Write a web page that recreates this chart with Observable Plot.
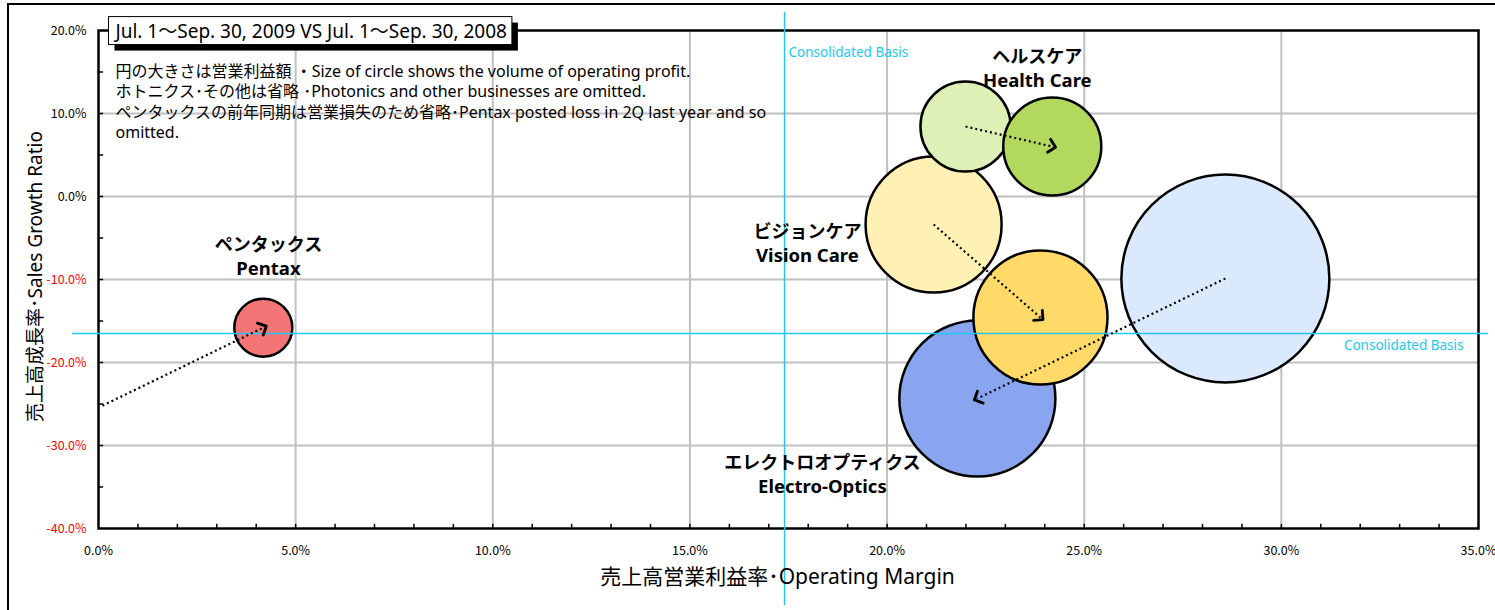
<!DOCTYPE html>
<html><head><meta charset="utf-8">
<script src="https://cdn.jsdelivr.net/npm/d3@7"></script>
<script src="https://cdn.jsdelivr.net/npm/@observablehq/plot@0.6"></script>
<style>
body{margin:0;background:#fff;}
#chart svg{display:block}
</style></head><body><div id="chart"></div>
<script>
// ---- data ----
const segmentJa = ["ペンタックス", "ヘルスケア", "ビジョンケア", "エレクトロオプティクス"];
const segmentEn = ["Pentax", "Health Care", "Vision Care", "Electro-Optics"];
// operating margin (%), sales growth (%), operating profit (bn yen) ; Jul-Sep 2008 (Pentax omitted)
const margin2008 = [null, 21.99, 21.18, 28.58];
const growth2008 = [null, 8.43, -3.37, -9.88];
const profit2008 = [null, 2.03, 4.62, 10.8];
// Jul-Sep 2009
const margin2009 = [4.18, 24.19, 23.89, 22.29];
const growth2009 = [-15.8, 6.02, -14.58, -24.34];
const profit2009 = [0.84, 2.40, 4.49, 6.08];
// Pentax arrow enters from the left edge (prior-year point omitted)
const pentaxArrowFrom = [0.1, -25.2];
// consolidated basis
const consolidatedMargin = 17.4;
const consolidatedGrowth = -16.5;
// ticks
const xTickValues = [0, 5, 10, 15, 20, 25, 30, 35];
const yTickValues = [-40, -30, -20, -10, 0, 10, 20];
const titleText = "Jul. 1～Sep. 30, 2009 VS Jul. 1～Sep. 30, 2008";
const noteLines = [
  "円の大きさは営業利益額 ・Size of circle shows the volume of operating profit.",
  "ホトニクス･その他は省略 ･Photonics and other businesses are omitted.",
  "ペンタックスの前年同期は営業損失のため省略･Pentax posted loss in 2Q last year and so",
  "omitted."
];
const xTitle = "売上高営業利益率･Operating Margin";
const yTitle = "売上高成長率･Sales Growth Ratio";
const basisLabel = "Consolidated Basis";

// ---- styles ----
const palette = {
  2008: {1: "#dff0b6", 2: "#fff1b3", 3: "#dbe9fc"},
  2009: {0: "#f37575", 1: "#b2d95e", 2: "#ffda68", 3: "#8aa5f0"}
};
const labelAt = {0: [4.31, -7.35], 1: [23.81, 15.36], 2: [17.98, -5.78], 3: [18.36, -33.6]};
const cyan = "#22c8f2";
const FONT = "'Noto Sans', 'Noto Sans CJK JP', sans-serif";
const TICKFONT = "'Noto Sans CJK JP', sans-serif";

// ---- derived tables ----
const circles = [];
for (const i of [3, 2, 1, 0]) {
  if (margin2008[i] != null) circles.push({seg: i, period: 2008, margin: margin2008[i], growth: growth2008[i], profit: profit2008[i]});
  circles.push({seg: i, period: 2009, margin: margin2009[i], growth: growth2009[i], profit: profit2009[i]});
}
const arrows = segmentEn.map((s, i) => ({
  seg: i,
  x1: margin2008[i] ?? pentaxArrowFrom[0],
  y1: growth2008[i] ?? pentaxArrowFrom[1],
  x2: margin2009[i], y2: growth2009[i]
}));
const labels = segmentEn.map((s, i) => ({ja: segmentJa[i], en: s, x: labelAt[i][0], y: labelAt[i][1]}));
const pct = d => d.toFixed(1) + "%";

const chart = Plot.plot({
  width: 1495, height: 610,
  marginLeft: 98, marginRight: 17, marginTop: 30, marginBottom: 82,
  style: {fontFamily: FONT, background: "white", overflow: "visible"},
  x: {domain: [0, 35]},
  y: {domain: [-40, 20]},
  r: {type: "sqrt", domain: [0, 10.8], range: [0, 104]},
  marks: [
    Plot.ruleX(xTickValues.slice(1, -1), {stroke: "#c0c0c0", strokeWidth: 2}),
    Plot.ruleY(yTickValues.slice(1, -1), {stroke: "#c0c0c0", strokeWidth: 2}),
    Plot.ruleX(d3.range(1, 35), {y1: -40, y2: -39.5, stroke: "black", strokeWidth: 1.5}),
    Plot.ruleY(d3.range(-35, 20, 5), {x1: 0, x2: 0.13, stroke: "black", strokeWidth: 1.5}),
    Plot.frame({stroke: "black", strokeWidth: 2.5}),
    Plot.axisX(xTickValues, {tickSize: 0, tickPadding: 18, tickFormat: pct, fontSize: 12.5, label: null, fontFamily: TICKFONT}),
    Plot.axisY(yTickValues.filter(v => v >= 0), {tickSize: 0, tickPadding: 12, tickFormat: pct, fontSize: 12.5, label: null, fontFamily: TICKFONT}),
    Plot.axisY(yTickValues.filter(v => v < 0), {tickSize: 0, tickPadding: 12, tickFormat: pct, fontSize: 12.5, label: null, color: "#ff0000", fontFamily: TICKFONT}),
    Plot.dot(circles, {x: "margin", y: "growth", r: "profit", sort: null,
      fill: d => palette[d.period][d.seg], stroke: "black", strokeWidth: 2.5}),
    Plot.ruleY([consolidatedGrowth], {x1: -0.66, x2: 35.25, stroke: cyan, strokeWidth: 1.5}),
    Plot.ruleX([consolidatedMargin], {y1: 22.2, y2: -49.3, stroke: cyan, strokeWidth: 1.5}),
    Plot.text([basisLabel], {x: consolidatedMargin, y: 20, dx: 4, dy: 22, textAnchor: "start", fill: cyan, fontSize: 13.5}),
    Plot.text([basisLabel], {x: 35, y: consolidatedGrowth, dx: -15, dy: 12, textAnchor: "end", fill: cyan, fontSize: 13.5}),
    Plot.link(arrows, {x1: "x1", y1: "y1", x2: "x2", y2: "y2", stroke: "black", strokeWidth: 2.2, strokeDasharray: "2,3", markerEnd: "arrow"}),
    Plot.text(labels, {x: "x", y: "y", text: "ja", dy: -12, lineAnchor: "middle", fontSize: 18, fontWeight: "bold", fill: "black", fontFamily: "'Noto Sans CJK JP', sans-serif"}),
    Plot.text(labels, {x: "x", y: "y", text: "en", dy: 12, lineAnchor: "middle", fontSize: 18.5, fontWeight: "bold", fill: "black"}),
    Plot.text([titleText], {frameAnchor: "top-left", dx: 17, dy: 1, lineAnchor: "middle", textAnchor: "start", fontSize: 19, fill: "black"}),
    Plot.text([noteLines.join("\n")], {frameAnchor: "top-left", dx: 17, dy: 70.5, lineAnchor: "middle", textAnchor: "start", fontSize: 16, lineHeight: 1.27, fill: "black"}),
    Plot.text([xTitle], {frameAnchor: "bottom", dx: -11, dy: 49, lineAnchor: "middle", textAnchor: "middle", fontSize: 21, fill: "black"}),
    Plot.text([yTitle], {frameAnchor: "left", dx: -63, dy: -3, rotate: -90, lineAnchor: "middle", textAnchor: "middle", fontSize: 19, fill: "black"})
  ]
});
document.getElementById("chart").append(chart);

const svg = d3.select(chart);
// larger, solid arrowheads like the original
svg.selectAll("marker").attr("markerWidth", 10).attr("markerHeight", 10)
  .selectAll("path").attr("stroke-width", 1.3).attr("stroke-dasharray", "none").style("stroke-dasharray", "none");
// decorative frame + title box with shadow
svg.insert("path", ":first-child").attr("d", "M8,610V4H1495").attr("fill", "none").attr("stroke", "black").attr("stroke-width", 2);
svg.selectAll("text").filter(function() { return this.textContent === titleText; }).each(function() {
  const b = this.getBBox();
  const m = this.getCTM();
  const cy = b.y + m.f + b.height / 2;
  const x = b.x + m.e - 5, y = cy - 14, w = b.width + 10, h = 28;
  const g = this.parentNode;
  const box = d3.select(g.parentNode).insert("g", () => g);
  box.append("rect").attr("x", x + 6).attr("y", y + 6).attr("width", w).attr("height", h).attr("fill", "black");
  box.append("rect").attr("x", x).attr("y", y).attr("width", w).attr("height", h).attr("fill", "white").attr("stroke", "black").attr("stroke-width", 1);
});
</script>
</body></html>
